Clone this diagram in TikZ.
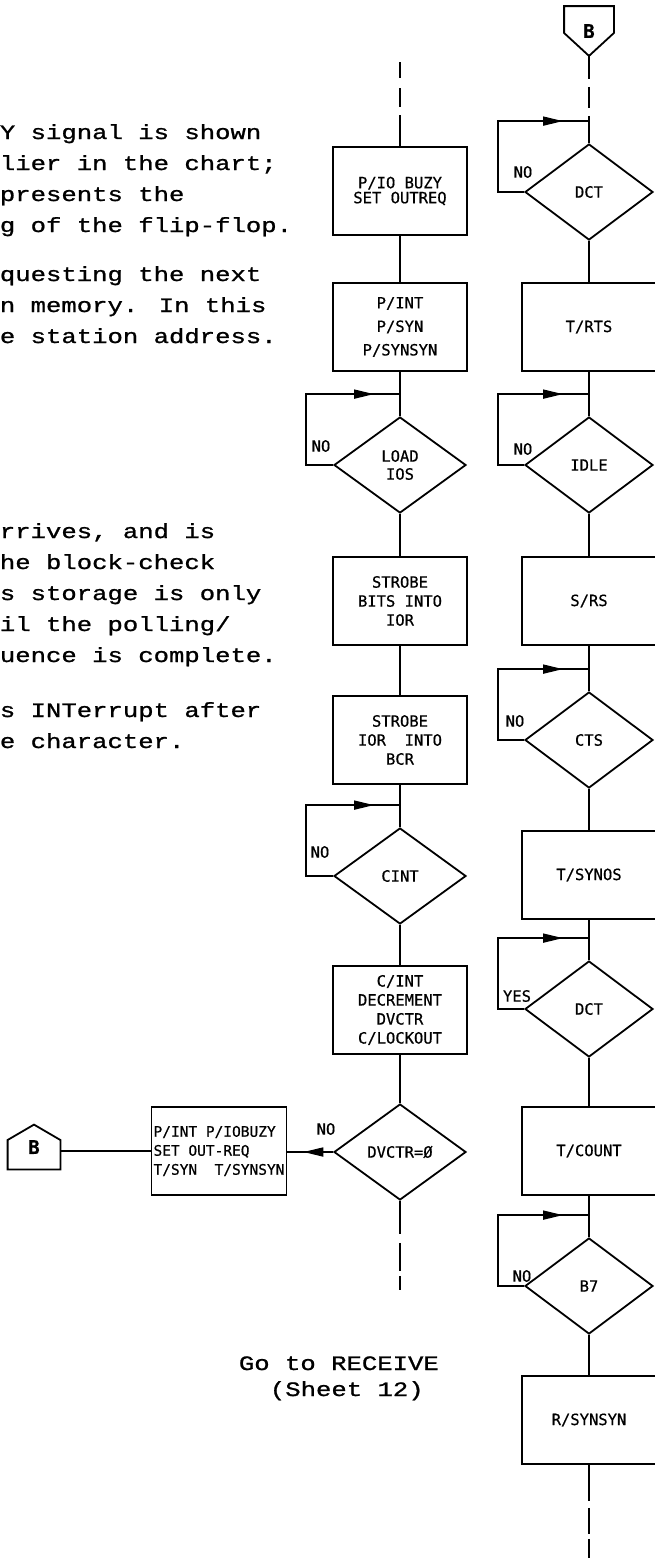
\documentclass[tikz,border=0pt]{standalone}
\usepackage{fontspec}
\usetikzlibrary{shapes.geometric,arrows.meta,decorations.markings,calc}
\newfontfamily\chartfont[FakeBold=0.6]{DejaVu Sans Mono}
\newfontfamily\typefont[FakeStretch=1.25,FakeBold=1]{Liberation Mono}

\begin{document}
\begin{tikzpicture}[
    x=1pt, y=-1pt,
    line width=1.8pt,
    process/.style={rectangle, draw, minimum width=134pt, minimum height=88pt, inner sep=2pt, align=center, font=\chartfont\fontsize{15.5}{19}\selectfont},
    decision/.style={diamond, draw, aspect=1.375, inner sep=0pt, minimum width=#1, minimum height=96pt, align=center, font=\chartfont\fontsize{15.5}{18}\selectfont},
    decision/.default=128pt,
    conn/.style={rectangle, inner sep=0pt, font=\chartfont\bfseries\fontsize{19}{19}\selectfont},
    lbl/.style={inner sep=0pt, font=\chartfont\fontsize{15.5}{15.5}\selectfont},
    note/.style={anchor=base west, inner sep=0pt, font=\typefont\fontsize{20.5}{31}\selectfont},
    backloop/.style={postaction={decorate}, decoration={markings, mark=at position #1 with {\arrow{Triangle[length=20pt,width=9pt]}}}},
    backloop/.default=-26pt
  ]
    \useasboundingbox[fill=white] (0,0) rectangle (654,1564);

    % Notes (cut at the left edge)
    \node[note] (noteA) at (-1,139) {Y signal is shown};
    \node[note] (noteB) at (-1,170) {lier in the chart;};
    \node[note] (noteC) at (-1,201) {presents the};
    \node[note] (noteD) at (-1,232) {g of the flip-flop.};
    \node[note] (noteE) at (-1,281) {questing the next};
    \node[note] (noteF) at (-1,312) {n memory. In this};
    \node[note] (noteG) at (-1,343) {e station address.};
    \node[note] (noteH) at (-1,538) {rrives, and is};
    \node[note] (noteI) at (-1,569) {he block-check};
    \node[note] (noteJ) at (-1,600) {s storage is only};
    \node[note] (noteK) at (-1,631) {il the polling/};
    \node[note] (noteL) at (-1,662) {uence is complete.};
    \node[note] (noteM) at (-1,717) {s INTerrupt after};
    \node[note] (noteN) at (-1,748) {e character.};
    \node[note] (gotoA) at (238,1370) {Go to RECEIVE};
    \node[note] (gotoB) at (269,1396) {(Sheet 12)};

    % Left column
    \coordinate (topL) at (400,62);
    \node[process] (pio) at (400,191) {P/IO BUZY\\[-4pt]SET OUTREQ};
    \node[process] (pint) at (400,327) {P/INT\\[4.5pt]P/SYN\\[4.5pt]P/SYNSYN};
    \node[decision=132pt] (load) at (400,465) {LOAD\\IOS};
    \node[process] (strA) at (400,601) {STROBE\\BITS INTO\\IOR};
    \node[process] (strB) at (400,740) {STROBE\\IOR~~INTO\\BCR};
    \node[decision=132pt] (cint) at (400,876) {CINT};
    \node[process] (cdec) at (400,1010) {C/INT\\DECREMENT\\DVCTR\\C/LOCKOUT};
    \node[decision=132pt] (dvz) at (400,1152) {DVCTR=Ø};
    \coordinate (endL) at (400,1290);
    \node[process, align=left, font=\chartfont\fontsize{14.5}{19}\selectfont] (preset) at (219,1151) {P/INT P/IOBUZY\\SET OUT-REQ\\T/SYN~~T/SYNSYN};
    \node[conn, minimum width=51pt, minimum height=43pt] (bout) at (34,1147) {B};
    \coordinate (xL) at (306,0);

    % Right column
    \node[conn, minimum width=48pt, minimum height=48pt] (bin) at (589,31) {B};
    \node[decision] (dctA) at (589,192) {DCT};
    \node[process] (rts) at (589,327) {T/RTS};
    \node[decision] (idle) at (589,465) {IDLE};
    \node[process] (srs) at (589,601) {S/RS};
    \node[decision] (cts) at (589,740) {CTS};
    \node[process] (synos) at (589,875) {T/SYNOS};
    \node[decision] (dctB) at (589,1009) {DCT};
    \node[process] (count) at (589,1151) {T/COUNT};
    \node[decision] (bsev) at (589,1286) {B7};
    \node[process] (rsyn) at (589,1420) {R/SYNSYN};
    \coordinate (endR) at (589,1558);
    \coordinate (xR) at (498,0);

    % Connector outlines
    \draw (bin.north west) -- (bin.north east) -- ($(bin.east)+(0,2)$) -- (bin.south) -- ($(bin.west)+(0,2)$) -- cycle;
    \draw (bout.south west) -- (bout.south east) -- ($(bout.east)+(0,-7)$) -- (bout.north) -- ($(bout.west)+(0,-7)$) -- cycle;

    % Loop joints
    \coordinate (jLoad) at ($(load.north)+(0,-22)$);
    \coordinate (jCint) at ($(cint.north)+(0,-22)$);
    \coordinate (jDctA) at ($(dctA.north)+(0,-22)$);
    \coordinate (jIdle) at ($(idle.north)+(0,-22)$);
    \coordinate (jCts) at ($(cts.north)+(0,-22)$);
    \coordinate (jDctB) at ($(dctB.north)+(0,-22)$);
    \coordinate (jBsev) at ($(bsev.north)+(0,-22)$);

    % Labels
    \node[lbl] (noLoad) at (321,446) {NO};
    \node[lbl] (noCint) at (320,852) {NO};
    \node[lbl] (noDvz) at (326,1129) {NO};
    \node[lbl] (noDctA) at (523,172) {NO};
    \node[lbl] (noIdle) at (523,449) {NO};
    \node[lbl] (noCts) at (515,721) {NO};
    \node[lbl] (yesDctB) at (517,996) {YES};
    \node[lbl] (noBsev) at (522,1276) {NO};

    % Connections, left
    \draw[dash pattern=on 16pt off 10pt on 19pt off 8pt on 200pt off 1pt] (topL) -- (pio.north);
    \draw (pio) -- (pint);
    \draw (pint) -- (load);
    \draw (load) -- (strA);
    \draw (strA) -- (strB);
    \draw (strB) -- (cint);
    \draw (cint) -- (cdec);
    \draw (cdec) -- (dvz);
    \draw[dash pattern=on 33pt off 9pt on 28pt off 5pt on 15pt off 10pt] (dvz.south) -- (endL);
    \draw[backloop] (load.west) -- (load.west -| xL) |- (jLoad);
    \draw[backloop] (cint.west) -- (cint.west -| xL) |- (jCint);
    \draw[backloop=-16pt] (dvz.west) -- (dvz.west -| preset.east);
    \draw (preset.west) -- (preset.west -| bout.east);

    % Connections, right
    \draw[dash pattern=on 23pt off 8pt on 21pt off 8pt on 200pt off 1pt] (bin.south) -- (dctA.north);
    \draw (dctA) -- (rts);
    \draw (rts) -- (idle);
    \draw (idle) -- (srs);
    \draw (srs) -- (cts);
    \draw (cts) -- (synos);
    \draw (synos) -- (dctB);
    \draw (dctB) -- (count);
    \draw (count) -- (bsev);
    \draw (bsev) -- (rsyn);
    \draw[dash pattern=on 36pt off 7pt on 26pt off 5pt on 20pt off 10pt] (rsyn.south) -- (endR);
    \draw[backloop] (dctA.west) -- (dctA.west -| xR) |- (jDctA);
    \draw[backloop] (idle.west) -- (idle.west -| xR) |- (jIdle);
    \draw[backloop] (cts.west) -- (cts.west -| xR) |- (jCts);
    \draw[backloop] (dctB.west) -- (dctB.west -| xR) |- (jDctB);
    \draw[backloop] (bsev.west) -- (bsev.west -| xR) |- (jBsev);
  \end{tikzpicture}
\end{document}
